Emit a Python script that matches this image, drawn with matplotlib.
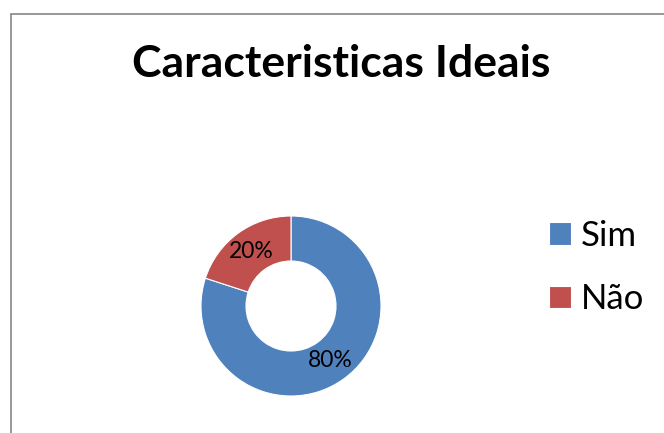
import matplotlib
matplotlib.use("Agg")
import matplotlib.pyplot as plt
from matplotlib.patches import Rectangle

title = "Caracteristicas Ideais"
categories = ["Sim", "Não"]
values = [80, 20]
colors = ["#4F81BD", "#C0504D"]

plt.rcParams['font.family'] = ['Lato', 'DejaVu Sans']

W, H = 664, 433
fig = plt.figure(figsize=(W / 100, H / 100), dpi=100)
fig.patch.set_facecolor("white")

# chart-area border (left and top visible; right/bottom cropped)
fig.patches.append(Rectangle((10.5 / W, -0.1), 1.2, (H - 13.5) / H + 0.1,
                             transform=fig.transFigure, fill=False,
                             edgecolor="#868686", linewidth=1.2))

# pie axes: centre (291, 306) px, outer radius 90 px
cx, cy, R = 291, 306, 90
ax = fig.add_axes([(cx - R) / W, (H - cy - R) / H, 2 * R / W, 2 * R / H])
wedges, texts, autotexts = ax.pie(
    values, colors=colors, startangle=90, counterclock=False,
    autopct=lambda p: f"{p:.0f}%", pctdistance=0.75,
    wedgeprops=dict(width=0.5, edgecolor="white", linewidth=0.8),
    textprops=dict(fontsize=16.5, color="black"))
ax.set_xlim(-1, 1)
ax.set_ylim(-1, 1)
ax.set_aspect("equal")
ax.axis("off")

fig.text(341 / W, 1 - 64 / H, title, ha="center", va="center",
         fontsize=32, fontweight="bold", color="black")

leg = fig.legend(wedges, categories, loc="upper left",
                 bbox_to_anchor=(549 / W, 1 - 219.5 / H),
                 frameon=False, fontsize=25, handlelength=0.63,
                 handleheight=0.63, handletextpad=0.3, labelspacing=0.91,
                 borderaxespad=0, borderpad=0)

fig.savefig("out.png", dpi=100, facecolor="white")
